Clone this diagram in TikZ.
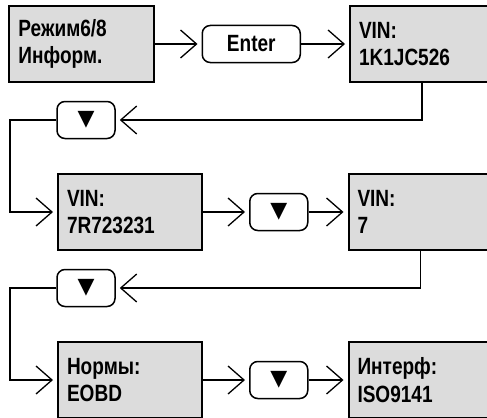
\documentclass[tikz,border=0pt]{standalone}
\usepackage{fontspec}
\usepackage{tikz}
\usetikzlibrary{arrows.meta,positioning}
\newfontfamily\screenfont[FakeStretch=0.81]{Liberation Sans}
\newfontfamily\arrowfont{DejaVu Sans}
\definecolor{screengray}{HTML}{DCDCDC}
\tikzset{
  screen/.style={draw,line width=2bp,fill=screengray,minimum height=76bp,text width=126bp,inner sep=9bp,align=left,
    font=\screenfont\bfseries\fontsize{23.5bp}{27.5bp}\selectfont},
  keybox/.style={draw,line width=1.5bp,rounded corners=8bp,minimum width=58bp,minimum height=37bp,inner sep=0pt,
    font=\screenfont\bfseries\fontsize{23.5bp}{27.5bp}\selectfont},
  flow/.style={-{Straight Barb[length=16bp,width=28bp,line width=1.3bp]},line width=1.3bp,shorten >=4bp},
}
\newcommand{\down}{{\arrowfont\fontsize{22bp}{24bp}\selectfont ▼}}

\begin{document}
\begin{tikzpicture}[x=1bp,y=1bp]
			\useasboundingbox (0,0) rectangle (487,417);
			\clip (0,0) rectangle (487,417);
			\coordinate (rail) at (10,0);
			
			% row 1
			\node[screen] (mode) at (81.5,373) {Режим6/8\\Информ.};
			\node[keybox,minimum width=98bp,right=47bp of mode] (enter) {Enter};
			\node[screen,right=48bp of enter] (vin1) {VIN:\\1K1JC526};
			\node[keybox] (dn1) at (86,297) {\down};
			
			% row 2
			\node[screen] (vin2) at (130,205) {VIN:\\7R723231};
			\node[keybox,right=46bp of vin2] (dn2) {\down};
			\node[screen,right=39bp of dn2] (vin3) {VIN:\\7};
			\node[keybox] (dn3) at (86,129) {\down};
			
			% row 3
			\node[screen] (norm) at (130,37) {Нормы:\\EOBD};
			\node[keybox,right=46bp of norm] (dn4) {\down};
			\node[screen,right=39bp of dn4] (intf) {Интерф:\\ISO9141};
			
			\draw[flow] (mode)--(enter);
			\draw[flow] (enter)--(vin1);
			\draw[flow] (vin1.south) |- (dn1.east);
			\draw[flow] (dn1.west) -- (dn1.west -| rail) |- (vin2.west);
			\draw[flow] (vin2)--(dn2);
			\draw[flow] (dn2)--(vin3);
			\draw[flow] (vin3.south) |- (dn3.east);
			\draw[flow] (dn3.west) -- (dn3.west -| rail) |- (norm.west);
			\draw[flow] (norm)--(dn4);
			\draw[flow] (dn4)--(intf);
		\end{tikzpicture}
\end{document}
